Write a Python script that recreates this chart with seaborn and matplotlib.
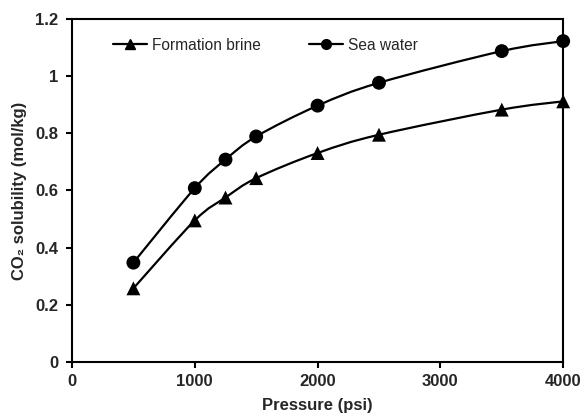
import numpy as np
import pandas as pd
import seaborn as sns
import matplotlib
matplotlib.use("Agg")
import matplotlib.pyplot as plt
from matplotlib.path import Path
from matplotlib.patches import PathPatch
from matplotlib.lines import Line2D

pressure = [500, 1000, 1250, 1500, 2000, 2500, 3500, 4000]
formation_brine = [0.257, 0.495, 0.575, 0.643, 0.731, 0.795, 0.883, 0.912]
sea_water = [0.347, 0.608, 0.708, 0.789, 0.897, 0.977, 1.088, 1.123]
series_names = ["Formation brine", "Sea water"]
x_ticks = [0, 1000, 2000, 3000, 4000]
y_ticks = [0, 0.2, 0.4, 0.6, 0.8, 1.0, 1.2]
y_tick_labels = ["0", "0.2", "0.4", "0.6", "0.8", "1", "1.2"]

sns.set_theme(style="ticks")
plt.rcParams["font.family"] = ["Liberation Sans", "DejaVu Sans"]

fig = plt.figure(figsize=(5.83, 4.16), dpi=100)
ax = fig.add_axes([0.1235, 0.1305, 0.8425, 0.8235])

df = pd.DataFrame({
    "Pressure": pressure * 2,
    "Solubility": formation_brine + sea_water,
    "Series": [series_names[0]] * len(pressure) + [series_names[1]] * len(pressure),
})


def smooth_path(x, y):
    p = np.column_stack([x, y]).astype(float)
    n = len(p)
    verts = [p[0]]
    codes = [Path.MOVETO]
    for i in range(n - 1):
        p_prev = p[i - 1] if i > 0 else p[i]
        p_next2 = p[i + 2] if i + 2 < n else p[i + 1]
        c1 = p[i] + (p[i + 1] - p_prev) / 6.0
        c2 = p[i + 1] - (p_next2 - p[i]) / 6.0
        verts += [c1, c2, p[i + 1]]
        codes += [Path.CURVE4] * 3
    return Path(verts, codes)


lw = 1.6
for vals in (formation_brine, sea_water):
    patch = PathPatch(smooth_path(pressure, vals), fill=False, edgecolor="black",
                      linewidth=lw, transform=ax.transData, zorder=2)
    ax.add_patch(patch)

sns.scatterplot(data=df, x="Pressure", y="Solubility", style="Series",
                markers={series_names[0]: "^", series_names[1]: "o"},
                color="black", s=100, edgecolor="black", linewidth=0,
                legend=False, ax=ax, zorder=3, clip_on=False)

ax.set_xlim(0, 4000)
ax.set_ylim(0, 1.2)
ax.set_xticks(x_ticks)
ax.set_xticklabels([str(t) for t in x_ticks])
ax.set_yticks(y_ticks)
ax.set_yticklabels(y_tick_labels)

for sp in ax.spines.values():
    sp.set_visible(True)
    sp.set_linewidth(1.5)
    sp.set_color("black")

ax.tick_params(axis="both", direction="out", length=4, width=1.5, color="black",
               labelsize=12)
ax.tick_params(axis="x", pad=5)
ax.tick_params(axis="y", pad=6)
for lab in ax.get_xticklabels() + ax.get_yticklabels():
    lab.set_fontweight("bold")

ax.set_xlabel("Pressure (psi)", fontsize=12, fontweight="bold", labelpad=6.5)
ax.set_ylabel("CO\u2082 solubility (mol/kg)", fontsize=12, fontweight="bold", labelpad=6)

handles = [
    Line2D([], [], color="black", lw=lw, marker="^", markersize=7.5),
    Line2D([], [], color="black", lw=lw, marker="o", markersize=7),
]
ax.legend(handles, series_names, loc="center left", bbox_to_anchor=(0.0835, 0.924),
          ncol=2, frameon=False, fontsize=11.2, handlelength=2.2, handletextpad=0.3,
          columnspacing=3.1, borderpad=0, borderaxespad=0)

fig.savefig("out.png", dpi=100)
